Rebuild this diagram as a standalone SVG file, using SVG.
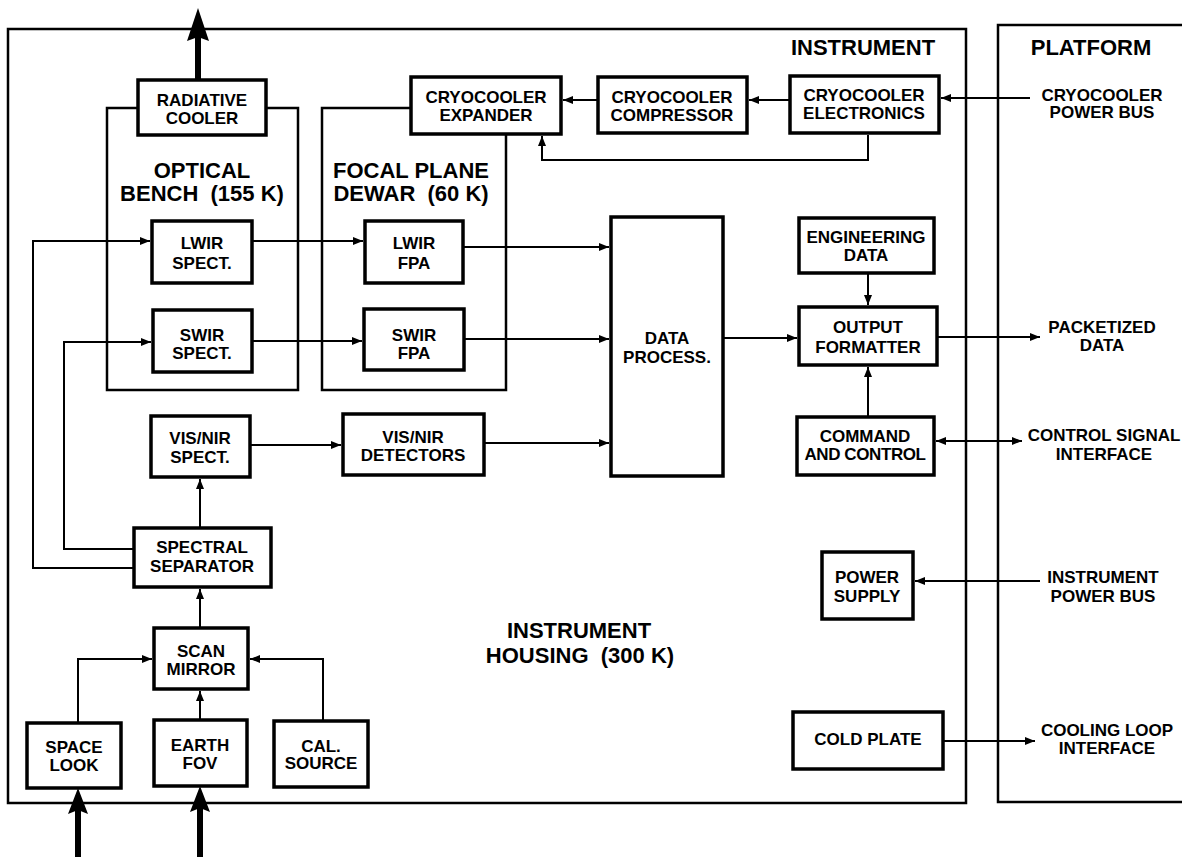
<svg xmlns="http://www.w3.org/2000/svg" width="1182" height="857" viewBox="0 0 1182 857">
<style>
text{font-family:"Liberation Sans",Arial,sans-serif;font-weight:bold;fill:#000;text-anchor:middle}
.b{font-size:17px}
.t{font-size:22px;white-space:pre}
.box{fill:#fff;stroke:#000;stroke-width:3.5}
.enc{fill:none;stroke:#000;stroke-width:2.5}
.c{fill:none;stroke:#000;stroke-width:2}
.ar{marker-end:url(#ah)}
</style>
<defs>
<marker id="ah" markerUnits="userSpaceOnUse" markerWidth="10" markerHeight="8" refX="10" refY="4" orient="auto-start-reverse">
<path d="M0,0 L10,4 L0,8 z" fill="#000"/>
</marker>
</defs>
<rect width="1182" height="857" fill="#fff"/>
<g id="enclosures">
<path class="enc" d="M8,29 H966 V803 H8 Z"/>
<path class="enc" d="M1186,25 H998 V802 H1186"/>
<path class="enc" d="M138,108 H107 V390 H298 V108 H266"/>
<path class="enc" d="M411,108 H322 V390 H506 V134"/>
</g>
<g id="labels">
<text class="t" x="863" y="55">INSTRUMENT</text>
<text class="t" x="1091" y="55">PLATFORM</text>
<text class="t" x="202" y="178">OPTICAL</text>
<text class="t" x="202" y="201" xml:space="preserve">BENCH  (155 K)</text>
<text class="t" x="411" y="178">FOCAL PLANE</text>
<text class="t" x="411" y="201" xml:space="preserve">DEWAR  (60 K)</text>
<text class="t" x="579" y="638">INSTRUMENT</text>
<text class="t" x="580" y="663" xml:space="preserve">HOUSING  (300 K)</text>
<text class="b" x="1102" y="101">CRYOCOOLER</text>
<text class="b" x="1102" y="118">POWER BUS</text>
<text class="b" x="1102" y="333">PACKETIZED</text>
<text class="b" x="1102" y="351">DATA</text>
<text class="b" x="1104" y="441">CONTROL SIGNAL</text>
<text class="b" x="1104" y="460">INTERFACE</text>
<text class="b" x="1103" y="583">INSTRUMENT</text>
<text class="b" x="1103" y="602">POWER BUS</text>
<text class="b" x="1107" y="736">COOLING LOOP</text>
<text class="b" x="1107" y="754">INTERFACE</text>
</g>
<g id="connectors">
<path class="c ar" d="M1030,98 H941"/>
<path class="c ar" d="M790,100 H749"/>
<path class="c ar" d="M598,100 H563"/>
<path class="c ar" d="M868,135 V160 H542 V136"/>
<path class="c ar" d="M134,568 H33 V241 H150"/>
<path class="c ar" d="M134,549 H64 V342 H151"/>
<path class="c ar" d="M252,241 H363"/>
<path class="c ar" d="M463,247 H609"/>
<path class="c ar" d="M252,341 H362"/>
<path class="c ar" d="M464,339 H609"/>
<path class="c ar" d="M250,445 H341"/>
<path class="c ar" d="M484,443 H609"/>
<path class="c ar" d="M200,528 V479"/>
<path class="c ar" d="M200,628 V589"/>
<path class="c ar" d="M78,723 V659 H152"/>
<path class="c ar" d="M323,721 V659 H250"/>
<path class="c ar" d="M200,720 V691"/>
<path class="c ar" d="M723,338 H797"/>
<path class="c ar" d="M868,273 V305"/>
<path class="c ar" d="M868,417 V367"/>
<path class="c ar" d="M937,337 H1040"/>
<path class="c ar" d="M936,441 H1022" marker-start="url(#ah)"/>
<path class="c ar" d="M1040,581 H915"/>
<path class="c ar" d="M943,741 H1035"/>
<g id="thick-arrows" fill="#000">
<rect x="195" y="36" width="6" height="44"/>
<path d="M198,8 L209,41 L198,37 L187,41 Z"/>
<rect x="75" y="808" width="6" height="49"/>
<path d="M78,788 L88,814 L78,810 L68,814 Z"/>
<rect x="197" y="806" width="6" height="51"/>
<path d="M200,786 L210,812 L200,808 L190,812 Z"/>
</g>
</g>
<g id="radiative-cooler"><rect class="box" x="138" y="80" width="128" height="55"/><text class="b" x="202" y="106">RADIATIVE</text><text class="b" x="202" y="124">COOLER</text></g>
<g id="cryo-expander"><rect class="box" x="411" y="77" width="150" height="57"/><text class="b" x="486" y="103">CRYOCOOLER</text><text class="b" x="486" y="121">EXPANDER</text></g>
<g id="cryo-compressor"><rect class="box" x="598" y="77" width="149" height="56"/><text class="b" x="672" y="103">CRYOCOOLER</text><text class="b" x="672" y="121">COMPRESSOR</text></g>
<g id="cryo-electronics"><rect class="box" x="790" y="76" width="149" height="57"/><text class="b" x="864" y="101">CRYOCOOLER</text><text class="b" x="864" y="119">ELECTRONICS</text></g>
<g id="lwir-spect"><rect class="box" x="152" y="221" width="100" height="62"/><text class="b" x="202" y="249">LWIR</text><text class="b" x="202" y="269">SPECT.</text></g>
<g id="lwir-fpa"><rect class="box" x="365" y="221" width="98" height="62"/><text class="b" x="414" y="249">LWIR</text><text class="b" x="414" y="269">FPA</text></g>
<g id="swir-spect"><rect class="box" x="153" y="310" width="99" height="62"/><text class="b" x="202" y="341">SWIR</text><text class="b" x="202" y="359">SPECT.</text></g>
<g id="swir-fpa"><rect class="box" x="364" y="309" width="100" height="61"/><text class="b" x="414" y="341">SWIR</text><text class="b" x="414" y="359">FPA</text></g>
<g id="visnir-spect"><rect class="box" x="151" y="416" width="99" height="61"/><text class="b" x="200" y="444">VIS/NIR</text><text class="b" x="200" y="463">SPECT.</text></g>
<g id="visnir-detectors"><rect class="box" x="343" y="414" width="141" height="61"/><text class="b" x="413" y="443">VIS/NIR</text><text class="b" x="413" y="461">DETECTORS</text></g>
<g id="spectral-separator"><rect class="box" x="134" y="528" width="137" height="59"/><text class="b" x="202" y="553">SPECTRAL</text><text class="b" x="202" y="572">SEPARATOR</text></g>
<g id="scan-mirror"><rect class="box" x="154" y="628" width="94" height="61"/><text class="b" x="201" y="657">SCAN</text><text class="b" x="201" y="675">MIRROR</text></g>
<g id="space-look"><rect class="box" x="27" y="723" width="94" height="65"/><text class="b" x="74" y="753">SPACE</text><text class="b" x="74" y="771">LOOK</text></g>
<g id="earth-fov"><rect class="box" x="154" y="720" width="93" height="66"/><text class="b" x="200" y="751">EARTH</text><text class="b" x="200" y="769">FOV</text></g>
<g id="cal-source"><rect class="box" x="274" y="721" width="94" height="66"/><text class="b" x="321" y="752">CAL.</text><text class="b" x="321" y="769">SOURCE</text></g>
<g id="data-process"><rect class="box" x="611" y="217" width="112" height="259"/><text class="b" x="667" y="344">DATA</text><text class="b" x="667" y="363">PROCESS.</text></g>
<g id="engineering-data"><rect class="box" x="799" y="218" width="135" height="55"/><text class="b" x="866" y="243">ENGINEERING</text><text class="b" x="866" y="261">DATA</text></g>
<g id="output-formatter"><rect class="box" x="799" y="307" width="138" height="58"/><text class="b" x="868" y="333">OUTPUT</text><text class="b" x="868" y="353">FORMATTER</text></g>
<g id="command-control"><rect class="box" x="797" y="417" width="137" height="58"/><text class="b" x="865" y="442">COMMAND</text><text class="b" x="865" y="460" letter-spacing="-0.4">AND CONTROL</text></g>
<g id="power-supply"><rect class="box" x="822" y="552" width="91" height="67"/><text class="b" x="867" y="583">POWER</text><text class="b" x="867" y="602">SUPPLY</text></g>
<g id="cold-plate"><rect class="box" x="793" y="712" width="150" height="57"/><text class="b" x="868" y="745">COLD PLATE</text></g>
</svg>
